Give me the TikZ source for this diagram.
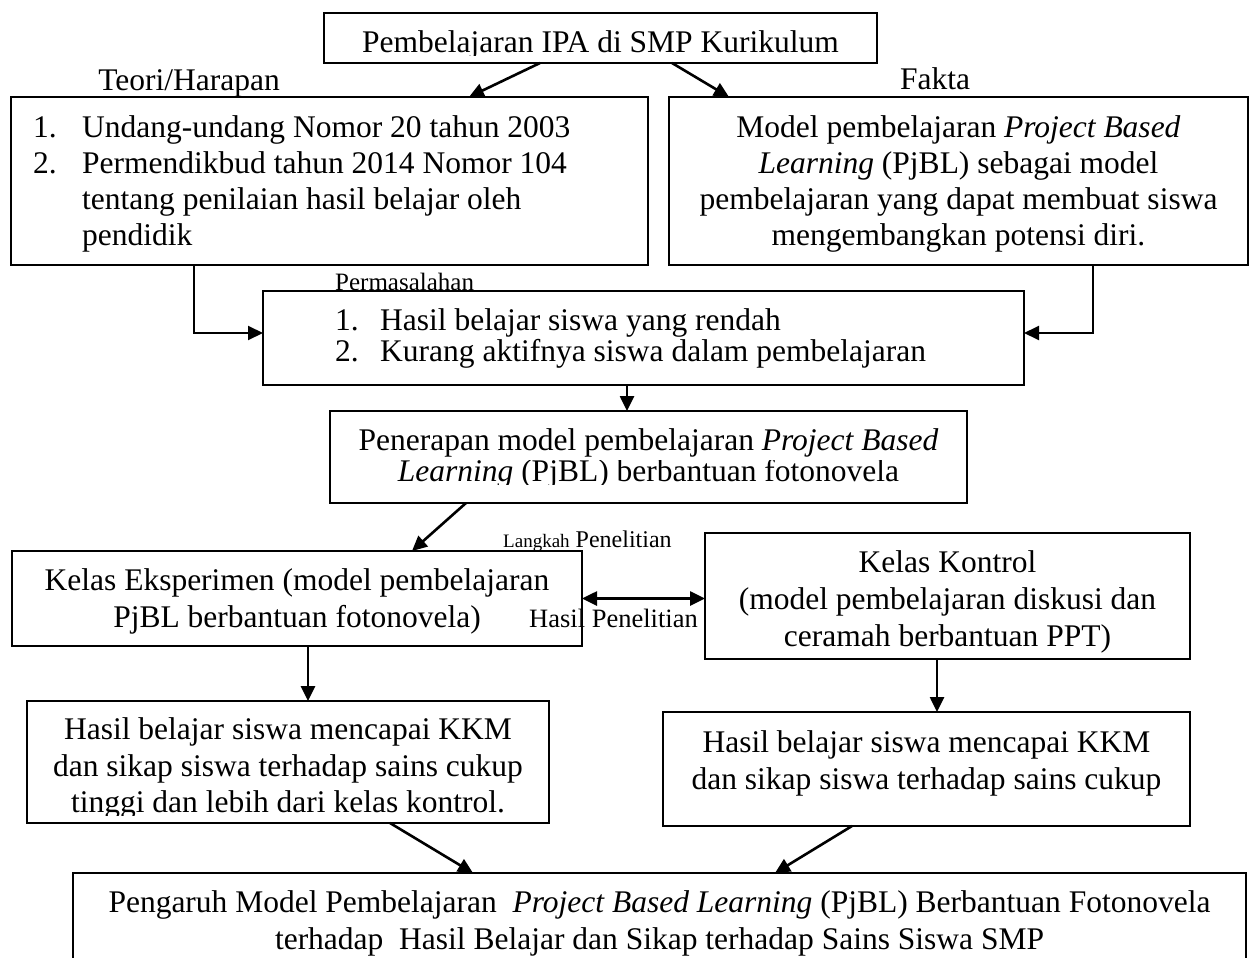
\documentclass[tikz,border=0pt]{standalone}
\usepackage{fontspec}
\setmainfont{Liberation Serif}
\usetikzlibrary{arrows.meta}
\begin{document}
\begin{tikzpicture}[x=1pt,y=-1pt,
  box/.style={draw, line width=2pt, inner sep=0pt, outer sep=0pt, anchor=north west},
  txt/.style={inner sep=0pt, font=\fontsize{31.5}{36}\selectfont},
  arr/.style={line width=2.6pt, -{Triangle[length=15pt,width=14pt]}},
  darr/.style={line width=2.6pt, {Triangle[length=15pt,width=14pt]}-{Triangle[length=15pt,width=14pt]}}]
\fill[white] (0,0) rectangle (1253,958);
\useasboundingbox (0,0) rectangle (1253,958);
\clip (0,0) rectangle (1253,958);

% boxes
\node[box, minimum width=553pt, minimum height=50pt] (top) at (324,13) {};
\node[box, minimum width=637pt, minimum height=168pt] (b1) at (11,97) {};
\node[box, minimum width=579pt, minimum height=168pt] (b2) at (669,97) {};
\node[box, minimum width=761pt, minimum height=94pt] (b3) at (263,291) {};
\node[box, minimum width=637pt, minimum height=92pt] (b4) at (330,411) {};
\node[box, minimum width=570pt, minimum height=95pt] (b5) at (12,551) {};
\node[box, minimum width=485pt, minimum height=126pt] (b6) at (705,533) {};
\node[box, minimum width=522pt, minimum height=122pt] (b7) at (27,701) {};
\node[box, minimum width=527pt, minimum height=114pt] (b9) at (663,712) {};
\node[box, minimum width=1173pt, minimum height=110pt] (b8) at (73,873) {};

% top box text (descenders cut)
\begin{scope}
\clip (320,10) rectangle (880,55.5);
\node[txt, anchor=base] (ttop) at (600.5,53) {Pembelajaran IPA di SMP Kurikulum};
\end{scope}

\node[txt, anchor=base] (lteori) at (189,90) {Teori/Harapan};
\node[txt, anchor=base] (lfakta) at (935,89) {Fakta};

% box 1
\node[txt, anchor=base west] (n11) at (33,137) {1.};
\node[txt, anchor=base west] (t11) at (82,137) {Undang-undang Nomor 20 tahun 2003};
\node[txt, anchor=base west] (n12) at (33,173) {2.};
\node[txt, anchor=base west] (t12) at (82,173) {Permendikbud tahun 2014 Nomor 104};
\node[txt, anchor=base west] (t13) at (82,209) {tentang penilaian hasil belajar oleh};
\node[txt, anchor=base west] (t14) at (82,245) {pendidik};

% box 2
\node[txt, anchor=base] (t21) at (958.5,137) {Model pembelajaran \textit{Project Based}};
\node[txt, anchor=base] (t22) at (958.5,173) {\textit{Learning} (PjBL) sebagai model};
\node[txt, anchor=base] (t23) at (958.5,209) {pembelajaran yang dapat membuat siswa};
\node[txt, anchor=base] (t24) at (958.5,245) {mengembangkan potensi diri.};

% box 3
\node[inner sep=0pt, anchor=base west, font=\fontsize{25}{28}\selectfont] (lperm) at (335,290) {Permasalahan};
\node[txt, anchor=base west] (n31) at (335,330) {1.};
\node[txt, anchor=base west] (t31) at (380,330) {Hasil belajar siswa yang rendah};
\node[txt, anchor=base west] (n32) at (335,361) {2.};
\node[txt, anchor=base west] (t32) at (380,361) {Kurang aktifnya siswa dalam pembelajaran};

% box 4
\node[txt, anchor=base] (t41) at (648.5,450) {Penerapan model pembelajaran \textit{Project Based}};
\begin{scope}
\clip (335,460) rectangle (960,484);
\node[txt, anchor=base] (t42) at (648.5,481) {\textit{Learning} (PjBL) berbantuan fotonovela};
\end{scope}

% labels between boxes 5 and 6
\node[inner sep=0pt, anchor=base west, font=\fontsize{24}{27}\selectfont] (llangkah) at (503,547) {{\fontsize{19}{22}\selectfont Langkah} Penelitian};
\node[inner sep=0pt, anchor=base west, font=\fontsize{26.5}{30}\selectfont] (lhasil) at (529,627) {Hasil Penelitian};

% box 5
\node[txt, anchor=base] (t51) at (297,590) {Kelas Eksperimen (model pembelajaran};
\node[txt, anchor=base] (t52) at (297,627) {PjBL berbantuan fotonovela)};

% box 6
\node[txt, anchor=base] (t61) at (947.5,572) {Kelas Kontrol};
\node[txt, anchor=base] (t62) at (947.5,609) {(model pembelajaran diskusi dan};
\node[txt, anchor=base] (t63) at (947.5,646) {ceramah berbantuan PPT)};

% box 7
\node[txt, anchor=base] (t71) at (288,739) {Hasil belajar siswa mencapai KKM};
\node[txt, anchor=base] (t72) at (288,776) {dan sikap siswa terhadap sains cukup};
\begin{scope}
\clip (30,790) rectangle (545,815);
\node[txt, anchor=base] (t73) at (288,812) {tinggi dan lebih dari kelas kontrol.};
\end{scope}

% box 9
\node[txt, anchor=base] (t91) at (926.5,752) {Hasil belajar siswa mencapai KKM};
\node[txt, anchor=base] (t92) at (926.5,789) {dan sikap siswa terhadap sains cukup};

% box 8
\node[txt, anchor=base] (t81) at (659.5,912) {Pengaruh Model Pembelajaran\ \ \textit{Project Based Learning} (PjBL) Berbantuan Fotonovela};
\node[txt, anchor=base] (t82) at (659.5,949) {terhadap\ \ Hasil Belajar dan Sikap terhadap Sains Siswa SMP};

% connectors
\draw[arr] ([xshift=-60.5pt]top.south) -- ([xshift=139.5pt]b1.north);
\draw[arr] ([xshift=71.5pt]top.south) -- ([xshift=-229.5pt]b2.north);
\draw[arr, line width=2pt] ([xshift=-135.5pt]b1.south) |- ([yshift=5pt]b3.west);
\draw[arr, line width=2pt] ([xshift=134.5pt]b2.south) |- ([yshift=5pt]b3.east);
\draw[arr] ([xshift=-16.5pt]b3.south) -- ([xshift=-21.5pt]b4.north);
\draw[arr] ([xshift=-182.5pt]b4.south) -- ([xshift=115pt]b5.north);
\draw[darr] (b5.east) -- (b5.east -| b6.west);
\draw[arr] ([xshift=11pt]b5.south) -- ([xshift=20pt]b7.north);
\draw[arr] ([xshift=-10.5pt]b6.south) -- ([xshift=10.5pt]b9.north);
\draw[arr] ([xshift=102pt]b7.south) -- ([xshift=-186.5pt]b8.north);
\draw[arr] ([xshift=-74.5pt]b9.south) -- ([xshift=115.5pt]b8.north);
\end{tikzpicture}
\end{document}
